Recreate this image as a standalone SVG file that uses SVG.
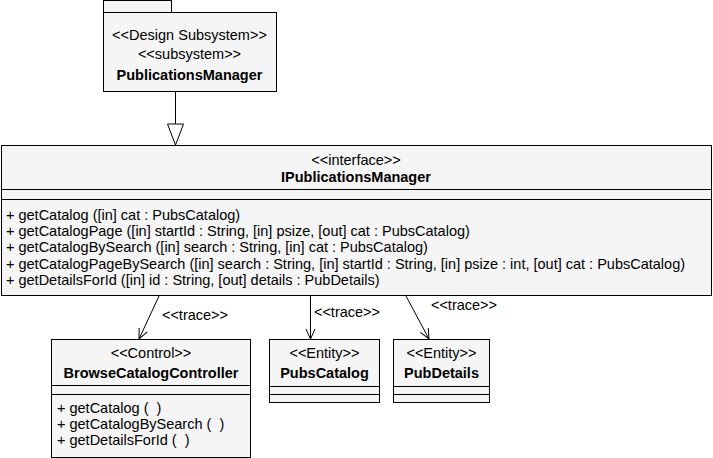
<svg xmlns="http://www.w3.org/2000/svg" width="713" height="458" viewBox="0 0 713 458">
<defs>
<style>
.box{fill:#f5f5f5;stroke:#000;stroke-width:1}
.ln{stroke:#000;stroke-width:1;fill:none}
text{font-family:"Liberation Sans",Arial,sans-serif;font-size:14.5px;fill:#000;white-space:pre}
.c{text-anchor:middle}
.b{font-weight:bold}
</style>
<marker id="open" viewBox="0 0 12 12" refX="11" refY="6" markerWidth="12" markerHeight="12" markerUnits="userSpaceOnUse" orient="auto">
<path d="M1,1.5 L11,6 L1,10.5" fill="none" stroke="#000" stroke-width="1"/>
</marker>
</defs>
<rect width="713" height="458" fill="#fff"/>
<g id="connectors">
<path class="ln" d="M175.5,91 V124"/>
<path d="M167.5,124 H183.5 L175.5,145 Z" fill="#fff" stroke="#000"/>
<path class="ln" d="M159,296 L139,339" marker-end="url(#open)"/>
<path class="ln" d="M310.5,296 V339" marker-end="url(#open)"/>
<path class="ln" d="M406,296 L429,339" marker-end="url(#open)"/>
<text class="c" x="195" y="320">&lt;&lt;trace&gt;&gt;</text>
<text class="c" x="347" y="317">&lt;&lt;trace&gt;&gt;</text>
<text class="c" x="464" y="310">&lt;&lt;trace&gt;&gt;</text>
</g>
<g id="PublicationsManager">
<rect class="box" x="103.5" y="0.5" width="68" height="12"/>
<rect class="box" x="103.5" y="12.5" width="173" height="79"/>
<text class="c" x="189.5" y="40">&lt;&lt;Design Subsystem&gt;&gt;</text>
<text class="c" x="189.5" y="59">&lt;&lt;subsystem&gt;&gt;</text>
<text class="c b" x="189.5" y="80">PublicationsManager</text>
</g>
<g id="IPublicationsManager">
<rect class="box" x="1.5" y="145.5" width="710" height="150"/>
<path class="ln" d="M1.5,189.5 H711.5 M1.5,199.5 H711.5"/>
<text class="c" x="356" y="165">&lt;&lt;interface&gt;&gt;</text>
<text class="c b" x="356" y="182">IPublicationsManager</text>
<text x="6" y="220">+ getCatalog ([in] cat : PubsCatalog)</text>
<text x="6" y="236">+ getCatalogPage ([in] startId : String, [in] psize, [out] cat : PubsCatalog)</text>
<text x="6" y="252">+ getCatalogBySearch ([in] search : String, [in] cat : PubsCatalog)</text>
<text x="6" y="269">+ getCatalogPageBySearch ([in] search : String, [in] startId : String, [in] psize : int, [out] cat : PubsCatalog)</text>
<text x="6" y="285">+ getDetailsForId ([in] id : String, [out] details : PubDetails)</text>
</g>
<g id="BrowseCatalogController">
<rect class="box" x="51.5" y="339.5" width="199" height="118"/>
<path class="ln" d="M51.5,385.5 H250.5 M51.5,394.5 H250.5"/>
<text class="c" x="151" y="358">&lt;&lt;Control&gt;&gt;</text>
<text class="c b" x="151" y="378">BrowseCatalogController</text>
<text x="57" y="413">+ getCatalog (  )</text>
<text x="57" y="429">+ getCatalogBySearch (  )</text>
<text x="57" y="445">+ getDetailsForId (  )</text>
</g>
<g id="PubsCatalog">
<rect class="box" x="269.5" y="339.5" width="110" height="63"/>
<path class="ln" d="M269.5,386.5 H379.5 M269.5,394.5 H379.5"/>
<text class="c" x="324.5" y="358">&lt;&lt;Entity&gt;&gt;</text>
<text class="c b" x="324.5" y="378">PubsCatalog</text>
</g>
<g id="PubDetails">
<rect class="box" x="393.5" y="339.5" width="96" height="63"/>
<path class="ln" d="M393.5,386.5 H489.5 M393.5,394.5 H489.5"/>
<text class="c" x="441.5" y="358">&lt;&lt;Entity&gt;&gt;</text>
<text class="c b" x="441.5" y="378">PubDetails</text>
</g>
</svg>
